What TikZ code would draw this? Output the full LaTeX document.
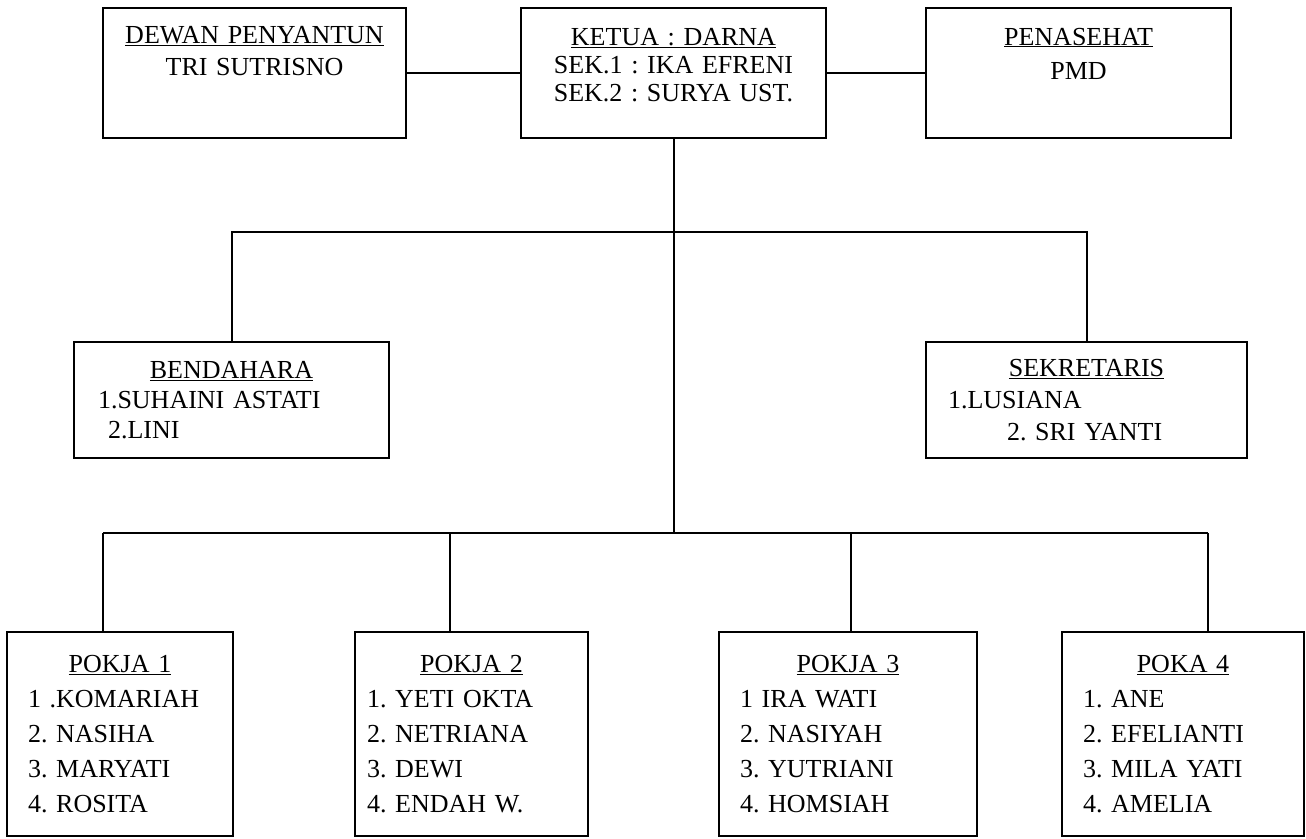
\documentclass[tikz,border=0pt]{standalone}
\usepackage{fontspec}
\setmainfont{Liberation Serif}
\frenchspacing
\usetikzlibrary{positioning}

\tikzset{
  orgbox/.style={draw, black, line width=2pt, inner sep=0pt, font=\fontsize{26}{28}\selectfont},
  link/.style={line width=2pt}
}

\begin{document}
\begin{tikzpicture}[x=1pt,y=-1pt]
\useasboundingbox (0,0) rectangle (1306,838);

\node[orgbox, align=center, text width=303pt, minimum height=130pt, font=\fontsize{26}{32}\selectfont, text height=18pt, text depth=78pt] (dewan) at (254.5,73)
{\underline{DEWAN PENYANTUN}\\ TRI SUTRISNO};
\node[orgbox, align=center, text width=305pt, minimum height=130pt, text height=18pt, text depth=74pt] (ketua) at (673.5,73)
{\underline{KETUA : DARNA}\\ SEK.1 : IKA EFRENI\\ SEK.2 : SURYA UST.};
\node[orgbox, align=center, text width=305pt, minimum height=130pt, font=\fontsize{26}{34}\selectfont, text height=18pt, text depth=74pt] (penasehat) at (1078.5,73)
{\underline{PENASEHAT}\\ PMD};

\node[orgbox, align=left, text width=315pt, minimum height=116pt, font=\fontsize{26}{30}\selectfont] (bendahara) at (231.5,400)
{\hfill\underline{BENDAHARA}\hfill\null\\ \hspace*{24pt}1.SUHAINI ASTATI\\ \hspace*{34pt}2.LINI};
\node[orgbox, align=left, text width=321pt, minimum height=116pt, font=\fontsize{26}{32}\selectfont] (sekretaris) at (1086.5,400)
{\hfill\underline{SEKRETARIS}\hfill\null\\ \hspace*{22pt}1.LUSIANA\\ \hspace*{81pt}2. SRI YANTI};

\node[orgbox, align=left, text width=226pt, minimum height=204pt, font=\fontsize{26}{35}\selectfont] (pokja1) at (120,734)
{\hfill\underline{POKJA 1}\hfill\null\\ \hspace*{21pt}1 .KOMARIAH\\ \hspace*{21pt}2. NASIHA\\ \hspace*{21pt}3. MARYATI\\ \hspace*{21pt}4. ROSITA};
\node[orgbox, align=left, text width=233pt, minimum height=204pt, font=\fontsize{26}{35}\selectfont] (pokja2) at (471.5,734)
{\hfill\underline{POKJA 2}\hfill\null\\ \hspace*{12pt}1. YETI OKTA\\ \hspace*{12pt}2. NETRIANA\\ \hspace*{12pt}3. DEWI\\ \hspace*{12pt}4. ENDAH W.};
\node[orgbox, align=left, text width=258pt, minimum height=204pt, font=\fontsize{26}{35}\selectfont] (pokja3) at (848,734)
{\hfill\underline{POKJA 3}\hfill\null\\ \hspace*{21pt}1 IRA WATI\\ \hspace*{21pt}2. NASIYAH\\ \hspace*{21pt}3. YUTRIANI\\ \hspace*{21pt}4. HOMSIAH};
\node[orgbox, align=left, text width=242pt, minimum height=204pt, font=\fontsize{26}{35}\selectfont] (poka4) at (1183,734)
{\hfill\underline{POKA 4}\hfill\null\\ \hspace*{21pt}1. ANE\\ \hspace*{21pt}2. EFELIANTI\\ \hspace*{21pt}3. MILA YATI\\ \hspace*{21pt}4. AMELIA};

\coordinate (midbus) at (0,232);
\coordinate (s1) at (103,533);
\coordinate (s2) at (450,533);
\coordinate (s3) at (851,533);
\coordinate (s4) at (1208,533);

\draw[link] (dewan.east) -- (ketua.west);
\draw[link] (ketua.east) -- (penasehat.west);
\draw[link] (ketua.south) -- (ketua.south |- s1);
\draw[link] (bendahara.north) -- (bendahara.north |- midbus) -- (sekretaris.north |- midbus) -- (sekretaris.north);
\draw[link] (s1) -- (s4);
\draw[link] (s1) -- (s1 |- pokja1.north);
\draw[link] (s2) -- (s2 |- pokja2.north);
\draw[link] (s3) -- (s3 |- pokja3.north);
\draw[link] (s4) -- (s4 |- poka4.north);
\end{tikzpicture}
\end{document}
